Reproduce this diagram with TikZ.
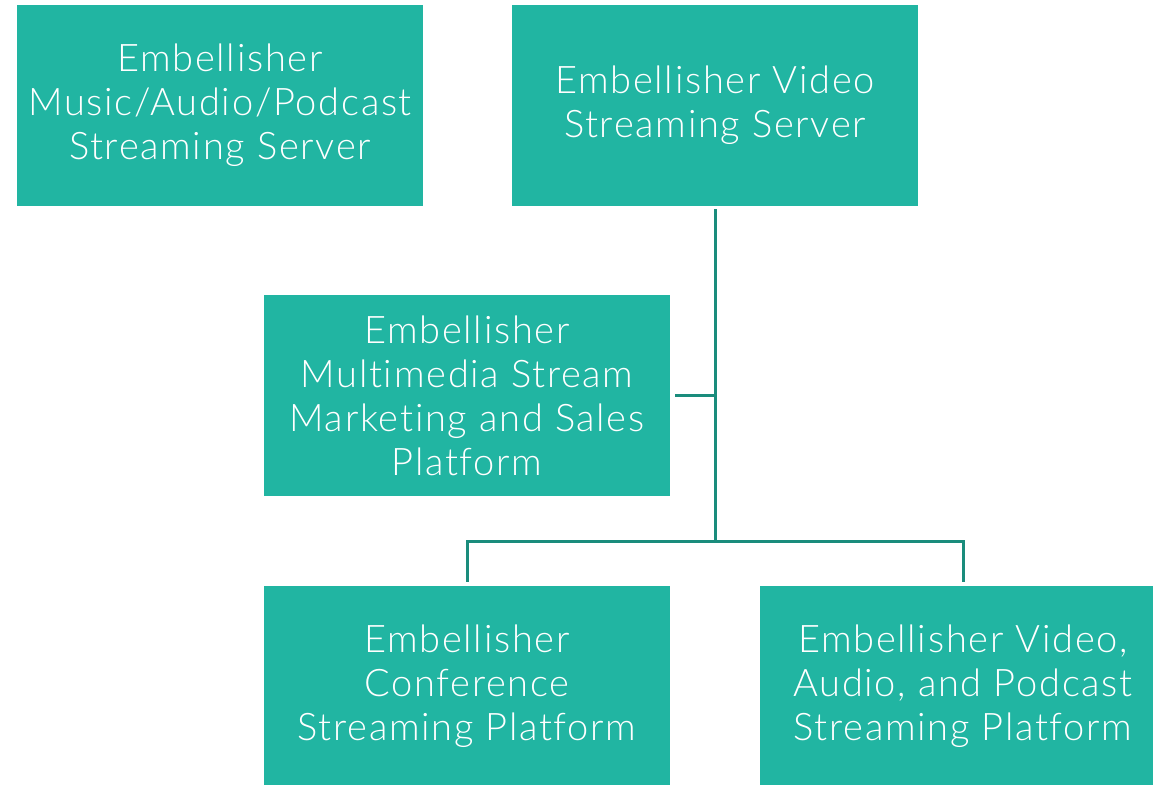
\documentclass[tikz,border=0pt]{standalone}
\usepackage{fontspec}
\setmainfont{Lato Light}[LetterSpace=4.5, Ligatures={NoCommon}]
\definecolor{boxfill}{HTML}{21B5A2}
\definecolor{linecol}{HTML}{1A8C7C}
\tikzset{
  box/.style={fill=boxfill, draw=none, text=white, minimum width=406pt, minimum height=201pt,
    align=center, inner sep=0pt, font=\fontsize{38}{44}\selectfont},
  conn/.style={draw=linecol, line width=3pt}
}
\begin{document}
\begin{tikzpicture}[x=1pt,y=-1pt]
\useasboundingbox (0,0) rectangle (1153,784);
\clip (0,0) rectangle (1153,784);
\node[box] (b1) at (220,105.5) {Embellisher\\Music/Audio/Podcast\\Streaming Server};
\node[box] (b2) at (715,105.5) {Embellisher Video\\Streaming Server};
\node[box] (b3) at (467,395.5) {Embellisher\\Multimedia Stream\\Marketing and Sales\\Platform};
\node[box] (b4) at (467,686.5) {Embellisher\\Conference\\Streaming Platform};
\node[box] (b5) at (963,686.5) {Embellisher Video,\\Audio, and Podcast\\Streaming Platform};
\coordinate (j) at (715,541);
\draw[conn] ([yshift=-3pt]b2.south) -- (j);
\draw[conn] ([xshift=5pt]b3.east) -- (b3.east -| b2.south);
\draw[conn] ([yshift=4pt]b4.north) |- (j) -| ([yshift=4pt]b5.north);
\end{tikzpicture}
\end{document}
